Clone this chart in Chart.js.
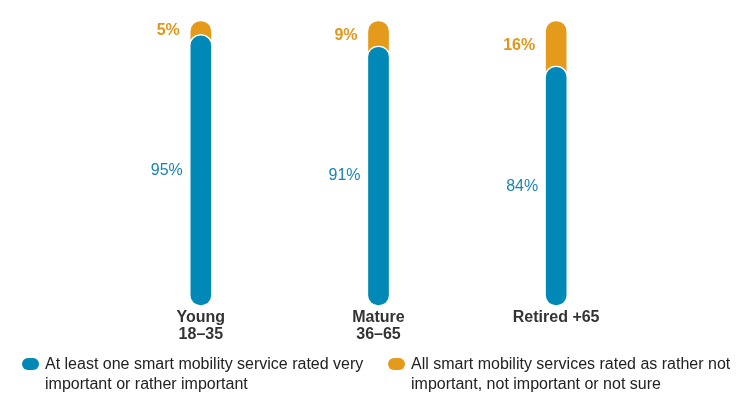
<!DOCTYPE html>
<html><head><meta charset="utf-8">
<script src="https://cdn.jsdelivr.net/npm/chart.js@4/dist/chart.umd.min.js"></script>
<style>
html,body{margin:0;padding:0;background:#fff;}
#wrap{position:relative;width:750px;height:414px;}
#legend{position:absolute;left:0;top:354px;width:750px;font-family:"Liberation Sans",Arial,sans-serif;font-size:16px;color:#222;line-height:20px;}
.li{position:absolute;top:0;}
.sw{position:absolute;left:0;top:4px;width:17px;height:12px;border-radius:6px;}
.tx{position:absolute;left:23px;top:0;}
</style></head>
<body><div id="wrap"><canvas id="c" width="750" height="414"></canvas><div id="legend"></div></div>
<script>
const categories = [["Young","18–35"],["Mature","36–65"],["Retired +65"]];
const importantShare = [95, 91, 84];
const notImportantShare = [5, 9, 16];
const seriesNames = ["At least one smart mobility service rated very important or rather important","All smart mobility services rated as rather not important, not important or not sure"];
const blue = "#0089b6", orange = "#e49a1b";
const totals = importantShare.map((v,i)=>v+notImportantShare[i]);

const labelPlugin = {
  id:'lbls',
  afterDatasetsDraw(chart){
    const ctx = chart.ctx, y = chart.scales.y, x = chart.scales.x;
    ctx.save();
    ctx.textAlign='right'; ctx.textBaseline='middle';
    importantShare.forEach((v,i)=>{
      const cx = x.getPixelForValue(i);
      ctx.font = '16px "Liberation Sans", Arial, sans-serif';
      ctx.fillStyle = "#1a84b3";
      ctx.fillText(v+'%', cx-18, y.getPixelForValue(v/2));
      ctx.font = 'bold 16px "Liberation Sans", Arial, sans-serif';
      ctx.fillStyle = "#e3961a";
      ctx.fillText(notImportantShare[i]+'%', cx-21, y.getPixelForValue(v+notImportantShare[i]/2)+3);
    });
    ctx.restore();
  }
};

const chart = new Chart(document.getElementById('c'),{
  type:'bar',
  data:{
    labels:categories,
    datasets:[
      {label:seriesNames[0],data:importantShare,backgroundColor:blue,borderColor:'#fff',borderWidth:1.5,borderRadius:12,borderSkipped:false,barThickness:23},
      {label:seriesNames[1],data:totals,backgroundColor:orange,borderColor:'#fff',borderWidth:1.5,borderRadius:12,borderSkipped:false,barThickness:23}
    ]
  },
  options:{
    responsive:false,animation:false,
    layout:{padding:{left:112,right:105,top:20,bottom:68}},
    plugins:{legend:{display:false},tooltip:{enabled:false}},
    scales:{
      x:{stacked:true,grid:{display:false,drawTicks:false},border:{display:false},
         ticks:{color:'#333',padding:3,font:{family:'"Liberation Sans", Arial, sans-serif',size:16,weight:'bold',lineHeight:1.05}}},
      y:{stacked:false,display:false,min:0,max:100}
    }
  },
  plugins:[labelPlugin]
});

const lg = document.getElementById('legend');
const pos = [{l:22,w:355},{l:388,w:355}];
chart.data.datasets.forEach((d,i)=>{
  const el = document.createElement('div'); el.className='li';
  el.style.left = pos[i].l+'px'; el.style.width = pos[i].w+'px';
  el.innerHTML = '<span class="sw" style="background:'+d.backgroundColor+'"></span><span class="tx"></span>';
  el.querySelector('.tx').textContent = d.label;
  lg.appendChild(el);
});
</script></body></html>
